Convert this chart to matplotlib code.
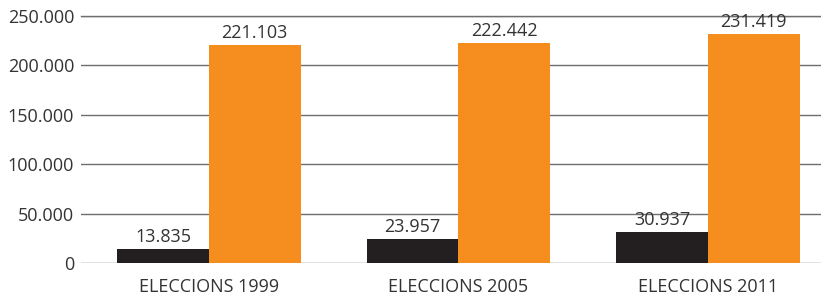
import matplotlib
matplotlib.use("Agg")
import matplotlib.pyplot as plt
import numpy as np

categories = ["ELECCIONS 1999", "ELECCIONS 2005", "ELECCIONS 2011"]
series_black = [13835, 23957, 30937]
series_orange = [221103, 222442, 231419]
yticks = [0, 50000, 100000, 150000, 200000, 250000]
ytick_labels = ["0", "50.000", "100.000", "150.000", "200.000", "250.000"]

def fmt(v):
    return f"{v:,}".replace(",", ".")

plt.rcParams['font.family'] = ['Open Sans', 'DejaVu Sans']
fig = plt.figure(figsize=(8.21, 2.96), dpi=100)
ax = fig.add_axes([81/821, 33/296, 740/821, (263-16)/296])

x = np.arange(len(categories))
w = 0.367
b1 = ax.bar(x - w/2, series_black, width=w, color="#231f20", zorder=3)
b2 = ax.bar(x + w/2, series_orange, width=w, color="#f58d1f", zorder=3)

for rect, v in zip(list(b1) + list(b2), series_black + series_orange):
    ax.text(rect.get_x() + rect.get_width()/2, v + 3000, fmt(v),
            ha="center", va="bottom", fontsize=13, color="#333333")

ax.set_xlim(-0.513, 2.453)
ax.set_ylim(0, 250000)
ax.set_yticks(yticks)
ax.set_yticklabels(ytick_labels)
ax.set_xticks(x)
ax.set_xticklabels(categories)
ax.tick_params(axis="y", length=0, pad=5, labelsize=13, labelcolor="#333333")
ax.tick_params(axis="x", length=0, pad=11, labelsize=13, labelcolor="#333333")
ax.yaxis.grid(True, color="#6e6e6e", linewidth=1.0, zorder=0)
ax.set_axisbelow(True)
for s in ax.spines.values():
    s.set_visible(False)
ax.axhline(250000, color="#6e6e6e", linewidth=1.0, zorder=0, clip_on=False)

fig.savefig("out.png", dpi=100)
